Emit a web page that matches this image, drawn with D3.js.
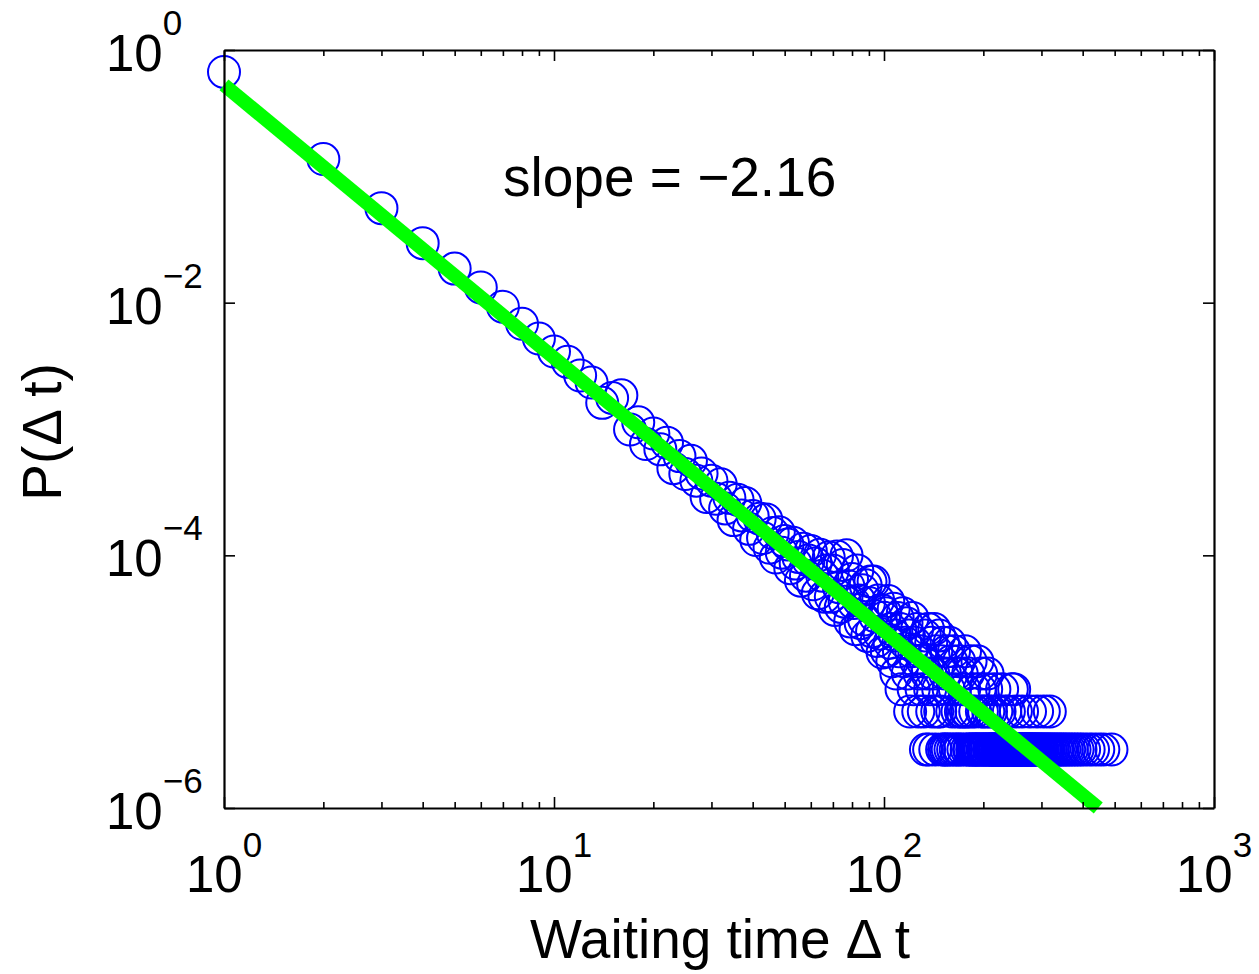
<!DOCTYPE html>
<html>

<head>
    <meta charset="utf-8">
    <script src="https://d3js.org/d3.v7.min.js"></script>
    <style>
        body { margin: 0; background: #fff; }
        text { font-family: "Liberation Sans", Arial, Helvetica, sans-serif; fill: #000; }
    </style>
    <script type="text/javascript">

    let width = 1259,
        height = 974;
    let plot = {left: 224, right: 1214, top: 50, bottom: 808};

    // ---- data ----
    // waiting times 1..100, one probability each
    const headT = [1, 2, 3, 4, 5, 6, 7, 8, 9, 10,
        11, 12, 13, 14, 15, 16, 17, 18, 19, 20,
        21, 22, 23, 24, 25, 26, 27, 28, 29, 30,
        31, 32, 33, 34, 35, 36, 37, 38, 39, 40,
        41, 42, 43, 44, 45, 46, 47, 48, 49, 50,
        51, 52, 53, 54, 55, 56, 57, 58, 59, 60,
        61, 62, 63, 64, 65, 66, 67, 68, 69, 70,
        71, 72, 73, 74, 75, 76, 77, 78, 79, 80,
        81, 82, 83, 84, 85, 86, 87, 88, 89, 90,
        91, 92, 93, 94, 95, 96, 97, 98, 99, 100];
    const headP = [0.67, 0.137, 0.056, 0.0296, 0.0186, 0.0132, 0.0093, 0.0068, 0.0052, 0.0041,
        0.0034, 0.00265, 0.00233, 0.00161, 0.00176, 0.00185, 9.9e-4, 0.00113, 7.6e-4, 9.2e-4,
        6.9e-4, 7.8e-4, 4.9e-4, 6.1e-4, 4.4e-4, 5.6e-4, 3.9e-4, 4.45e-4, 2.9e-4, 3.9e-4,
        2.8e-4, 3.65e-4, 2.35e-4, 2.85e-4, 1.9e-4, 2.75e-4, 2.07e-4, 2.6e-4, 1.62e-4, 2.05e-4,
        1.32e-4, 1.95e-4, 1.37e-4, 1.92e-4, 1.15e-4, 1.5e-4, 9.6e-5, 1.52e-4, 1.05e-4, 1.3e-4,
        1.22e-4, 7.9e-5, 1.26e-4, 8.6e-5, 9.7e-5, 6.3e-5, 1.13e-4, 6.9e-5, 9.1e-5, 1.08e-4,
        5.9e-5, 8.6e-5, 5.0e-5, 1.01e-4, 6.9e-5, 4.7e-5, 7.6e-5, 9.6e-5, 4.7e-5, 7.6e-5,
        3.7e-5, 9.8e-5, 5.6e-5, 3.9e-5, 8.4e-5, 4.3e-5, 1.0e-4, 5.7e-5, 3.0e-5, 6.5e-5,
        4.2e-5, 2.6e-5, 7.6e-5, 4.4e-5, 2.9e-5, 5.3e-5, 3.1e-5, 5.8e-5, 2.3e-5, 4.2e-5,
        6.2e-5, 2.5e-5, 6.2e-5, 3.3e-5, 2.1e-5, 4.4e-5, 2.4e-5, 3.7e-5, 1.7e-5, 3.2e-5];

    // long waiting times: probability is a whole number of events
    const unitP = 2.9e-6;   // one event
    const tailCounts = [15, 13, 12, 11, 10, 9, 8, 7, 6, 5, 4, 3, 2, 1];
    const tailT = [
        [103],
        [107],
        [101, 114],
        [110, 122],
        [117],
        [105, 112, 126, 136, 142],
        [108, 119, 133, 147],
        [104, 116, 124, 139, 151, 158],
        [102, 111, 121, 129, 144, 155, 163, 176],
        [106, 115, 125, 131, 149, 160, 169, 183, 192],
        [109, 118, 128, 135, 141, 153, 166, 172, 180, 197, 206],
        [113, 123, 130, 138, 146, 157, 164, 175, 187, 195, 204, 216, 228, 244, 248],
        [120, 127, 132, 140, 145, 148, 161, 167, 171, 173, 177, 179, 184, 189, 198, 201, 207,
         211, 219, 224, 233, 239, 251, 262, 277, 291, 305, 318],
        [134, 137, 143, 150, 152, 154, 156, 159, 162, 165, 168, 170, 174, 178, 181, 182, 185,
         186, 188, 190, 191, 193, 194, 196, 199, 200, 202, 203, 205, 208, 209, 210, 212, 213,
         214, 215, 217, 218, 220, 221, 222, 223, 225, 226, 227, 229, 230, 231, 232, 234, 235,
         236, 237, 238, 240, 241, 242, 243, 245, 246, 247, 249, 250, 252, 253, 254, 255, 256,
         257, 258, 259, 260, 261, 263, 264, 266, 267, 269, 270, 272, 273, 275, 276, 278, 280,
         282, 284, 286, 288, 290, 293, 295, 298, 300, 303, 307, 310, 313, 316, 320, 324, 328,
         333, 337, 342, 347, 352, 358, 364, 371, 378, 386, 394, 404, 417, 430, 446, 462, 489]
    ];

    // fitted power law, end points
    const fitT = [1, 446];
    const fitP = [0.53, 1.0e-6];
    const slopeLabel = "slope = \u22122.16";

    // ticks
    const xMajor = [1, 10, 100, 1000];
    const xMajorExp = ["0", "1", "2", "3"];
    const xMinor = [2, 3, 4, 5, 6, 7, 8, 9, 20, 30, 40, 50, 60, 70, 80, 90,
        200, 300, 400, 500, 600, 700, 800, 900];
    const yMajor = [1, 1e-2, 1e-4, 1e-6];
    const yMajorExp = ["0", "\u22122", "\u22124", "\u22126"];

    let x, y;

    function drawAxes(svg) {
        let sides = [
            {g: d3.axisBottom(x), at: `translate(0,${plot.bottom})`, major: xMajor},
            {g: d3.axisTop(x), at: `translate(0,${plot.top})`, major: xMajor},
            {g: d3.axisLeft(y), at: `translate(${plot.left},0)`, major: yMajor},
            {g: d3.axisRight(y), at: `translate(${plot.right},0)`, major: yMajor}
        ];
        sides.forEach((s, i) => {
            let g = svg.append("g").attr("transform", s.at)
                .call(s.g.tickValues(s.major).tickSize(-11).tickSizeOuter(0).tickFormat(""));
            g.select(".domain").attr("stroke", "#000").attr("stroke-width", 2.2);
            g.selectAll(".tick line").attr("stroke", "#000").attr("stroke-width", 1.6);
            if (i < 2) { // minor ticks only on the x axes
                let m = svg.append("g").attr("transform", s.at)
                    .call(s.g.tickValues(xMinor).tickSize(-6).tickSizeOuter(0).tickFormat(""));
                m.select(".domain").remove();
                m.selectAll(".tick line").attr("stroke", "#000").attr("stroke-width", 1.6);
            }
        });

        // tick labels with superscript exponents
        let xl = svg.append("g").selectAll("text")
            .data(xMajor)
            .join("text")
                .attr("x", d => x(d))
                .attr("y", 892)
                .attr("text-anchor", "middle")
                .style("font-size", "51px");
        xl.append("tspan").text("10");
        xl.append("tspan").attr("dy", -35).style("font-size", "35px").text((d, i) => xMajorExp[i]);

        let yl = svg.append("g").selectAll("text")
            .data(yMajor)
            .join("text")
                .attr("x", 106)
                .attr("y", d => y(d) + 21)
                .style("font-size", "51px");
        yl.append("tspan").text("10");
        yl.append("tspan").attr("dy", -36).style("font-size", "35px").text((d, i) => yMajorExp[i]);

        svg.append("text")
            .attr("x", 720)
            .attr("y", 958)
            .attr("text-anchor", "middle")
            .style("font-size", "55px")
            .text("Waiting time \u0394 t");

        svg.append("text")
            .attr("transform", "translate(61,432) rotate(-90)")
            .attr("text-anchor", "middle")
            .style("font-size", "55px")
            .text("P(\u0394 t)");
    }

    function drawPoints(svg) {
        let pts = headT.map((t, i) => ({t: t, p: headP[i]}));
        tailCounts.forEach((n, i) => {
            tailT[i].forEach(t => pts.push({t: t, p: n * unitP}));
        });
        pts.sort((a, b) => a.t - b.t);

        svg.append("g").selectAll("circle")
            .data(pts)
            .join("circle")
                .attr("cx", d => x(d.t))
                .attr("cy", d => y(d.p))
                .attr("r", 16)
                .style("fill", "none")
                .style("stroke", "#0000ff")
                .style("stroke-width", 2);
    }

    function drawFit(svg) {
        let line = d3.line().x(d => x(d[0])).y(d => y(d[1]));
        svg.append("path")
            .attr("d", line(fitT.map((t, i) => [t, fitP[i]])))
            .style("fill", "none")
            .style("stroke", "#00ff00")
            .style("stroke-width", 14)
            .style("stroke-linecap", "butt");

        svg.append("text")
            .attr("x", 503)
            .attr("y", 196)
            .style("font-size", "55px")
            .text(slopeLabel);
    }

    function setupVis() {
        let svg = d3.select("body").append("svg")
            .attr("width", width)
            .attr("height", height);

        x = d3.scaleLog().domain([1, 1000]).range([plot.left, plot.right]);
        y = d3.scaleLog().domain([1e-6, 1]).range([plot.bottom, plot.top]);

        drawPoints(svg);
        drawFit(svg);
        drawAxes(svg);
    }
    </script>
</head>

<body>
    <script type="text/javascript">
        setupVis();
    </script>
</body>

</html>
